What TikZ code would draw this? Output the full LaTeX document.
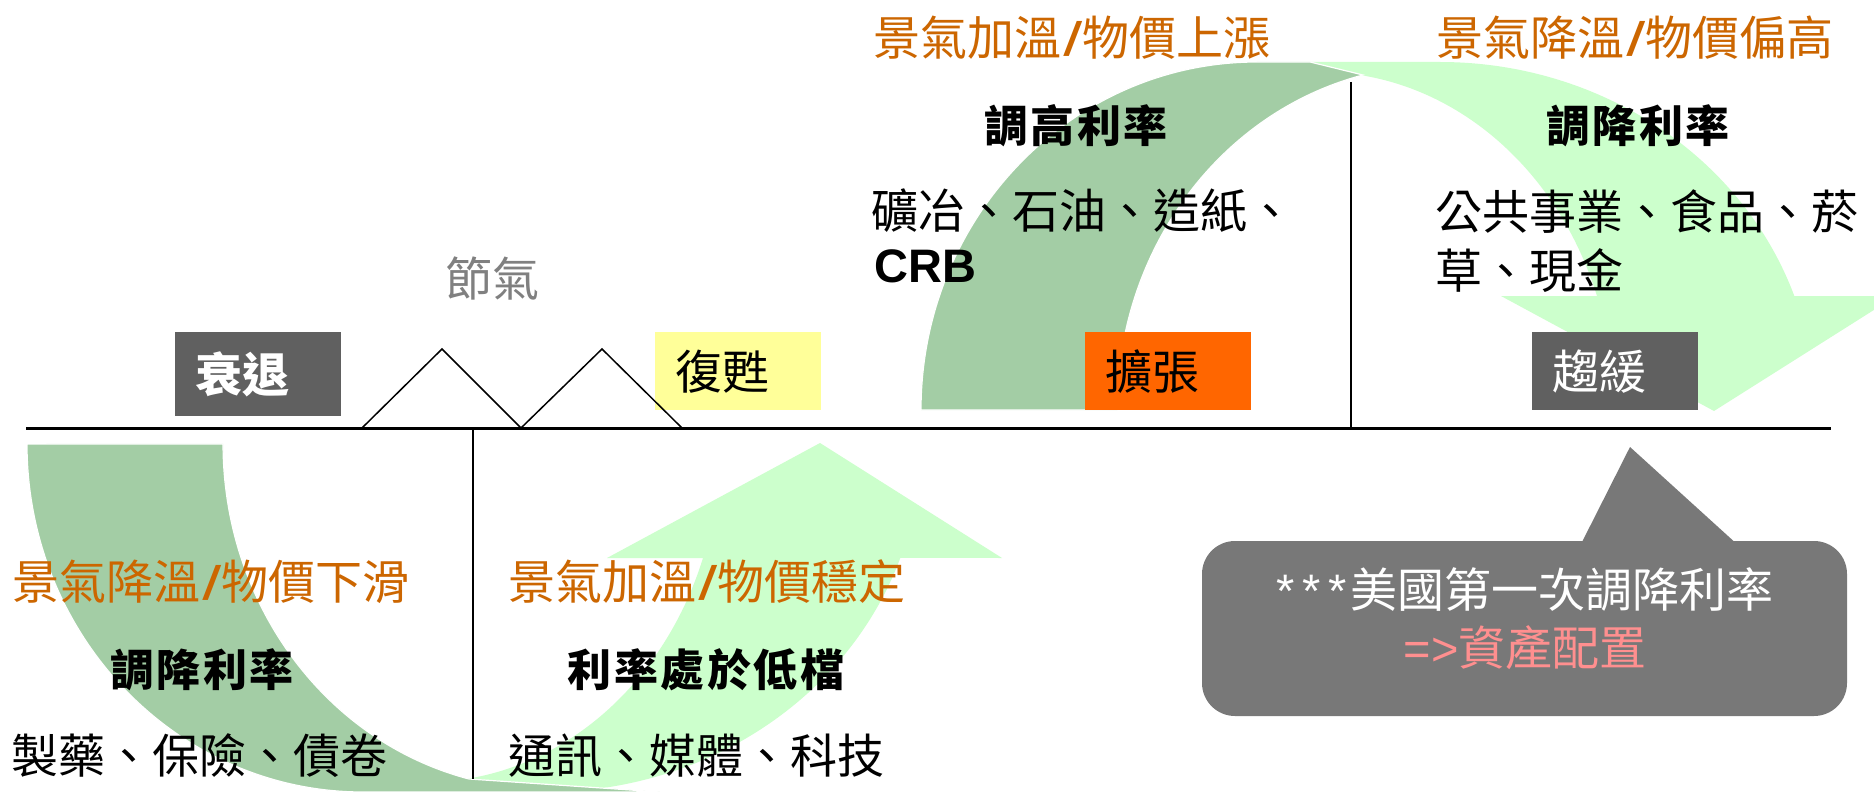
\documentclass[tikz,border=0pt]{standalone}
\usepackage{fontspec}
\setmainfont{Noto Sans CJK TC}
\newfontfamily\lat{Liberation Sans}
\definecolor{darkg}{RGB}{163,205,165}
\definecolor{lightg}{RGB}{204,255,204}
\definecolor{ttl}{RGB}{204,102,0}
\definecolor{boxgray}{RGB}{96,96,96}
\definecolor{bubgray}{RGB}{120,120,120}
\definecolor{pale}{RGB}{255,255,153}
\definecolor{orbox}{RGB}{255,102,0}
\definecolor{pinktxt}{RGB}{255,143,143}
\definecolor{midgray}{RGB}{128,128,128}
\newcommand\fs{\fontsize{23.5pt}{29pt}\selectfont}
\newcommand\fk{\fontsize{22pt}{27pt}\selectfont\bfseries}
\newcommand\tslash{{\lat\bfseries\itshape\kern2pt/\kern2pt}}
\newcommand\kk{\kern1.25pt}
\newcommand\lightband{%
  \fill[lightg] (1290,62) -- (1440,62)
    arc[start angle=270, end angle=340.9, x radius=375, y radius=348]
    -- (1896,296) -- (1714,411) -- (1501,296) -- (1597,296)
    arc[start angle=340.3, end angle=270, x radius=294, y radius=338]
    -- (1290,72) -- cycle;}
\newcommand\darkband[1]{%
  \filldraw[fill=darkg, draw=white, line width=0.6pt] (921,410)
    arc[start angle=180, end angle=270, x radius=336, y radius=348]
    -- (#1,62) -- (1363,75)
    arc[start angle=256.2, end angle=180, x radius=323, y radius=345]
    -- cycle;}
\begin{document}
\begin{tikzpicture}[x=0.5pt,y=-0.5pt,
  ttlstyle/.style={text=ttl, font=\fs, inner sep=0pt},
  kaistyle/.style={font=\fk, inner sep=0pt},
  bodystyle/.style={font=\fs, inner sep=0pt, anchor=west},
  stagebox/.style={minimum width=83pt, minimum height=39pt, text width=63pt,
    inner xsep=10pt, inner ysep=0pt, align=left, font=\fs, anchor=north west},
  axisline/.style={line width=1.5pt},
  divline/.style={line width=1pt},
  peakline/.style={line width=0.75pt, line join=miter}]
\clip (0,0) rectangle (1874,792);
\fill[white] (0,0) rectangle (1874,792);
% upper arrows
\lightband
\darkband{1310}
% lower arrows (mirrored)
\begin{scope}[shift={(-894,854)}, yscale=-1]
  \lightband
  \darkband{1554}
\end{scope}
% axis and dividers
\coordinate (axisL) at (26,428);
\coordinate (axisR) at (1831,428);
\coordinate (divTtop) at (1351,82);
\coordinate (divTbot) at (1351,428);
\coordinate (divBtop) at (473,428);
\coordinate (divBbot) at (473,779);
\draw[axisline] (axisL) -- (axisR);
\draw[divline] (divTtop) -- (divTbot);
\draw[divline] (divBtop) -- (divBbot);
% stage boxes
\node[stagebox, fill=boxgray, text=white, minimum height=42pt, font=\fs\bfseries] (recess) at (175,332) {衰退};
\node[stagebox, fill=pale] (recover) at (655,332) {復甦};
\node[stagebox, fill=orbox] (expand) at (1085,332) {擴張};
\node[stagebox, fill=boxgray, text=white] (slow) at (1532,332) {趨緩};
% peaks
\coordinate (p0) at (362,428);
\coordinate (p1) at (442,349);
\coordinate (p2) at (521,428);
\coordinate (p3) at (602,349);
\coordinate (p4) at (682,428);
\draw[peakline] (p0) -- (p1) -- (p2) -- (p3) -- (p4);
\node[font=\fs, text=midgray, inner sep=0pt] (jieqi) at (492,278) {節氣};
% titles
\node[ttlstyle] (t1) at (1072,38) {景氣加溫\tslash 物價上漲};
\node[ttlstyle] (t2) at (1635,38) {景氣降溫\tslash 物價偏高};
\node[ttlstyle] (t3) at (211,582) {景氣降溫\tslash 物價下滑};
\node[ttlstyle] (t4) at (707,582) {景氣加溫\tslash 物價穩定};
% policy labels
\node[kaistyle] (k1) at (1076,126) {調\kk 高\kk 利\kk 率};
\node[kaistyle] (k2) at (1638,126) {調\kk 降\kk 利\kk 率};
\node[kaistyle] (k3) at (202,670) {調\kk 降\kk 利\kk 率};
\node[kaistyle] (k4) at (706,670) {利\kk 率\kk 處\kk 於\kk 低\kk 檔};
% sectors
\node[bodystyle] (s1) at (871,211) {礦冶、石油、造紙、};
\node[inner sep=0pt, anchor=base west, font=\fs\lat\bfseries] (s1b) at (874,282) {CRB};
\node[bodystyle] (s2) at (1435,212) {公共事業、食品、菸};
\node[bodystyle] (s2b) at (1435,271) {草、現金};
\node[bodystyle] (s3) at (11,756) {製藥、保險、債卷};
\node[bodystyle] (s4) at (508,756) {通訊、媒體、科技};
% callout
\node[fill=bubgray, rounded corners=16.5pt, minimum width=322.5pt, minimum height=87.5pt, inner sep=0pt] (bubble) at (1524.5,628.5) {};
\coordinate (tipL) at (1580,546);
\coordinate (tip) at (1630,447);
\coordinate (tipR) at (1739,546);
\fill[bubgray] (tipL) -- (tip) -- (tipR) -- cycle;
\node[font=\fs, text=white, inner sep=0pt] (msg1) at (1525,590) {{\lat *\kern4pt*\kern4pt*}\kern2pt 美國第一次調降利率};
\node[font=\fs, text=pinktxt, inner sep=0pt] (msg2) at (1525,648) {{\lat =>}資產配置};
\end{tikzpicture}
\end{document}
